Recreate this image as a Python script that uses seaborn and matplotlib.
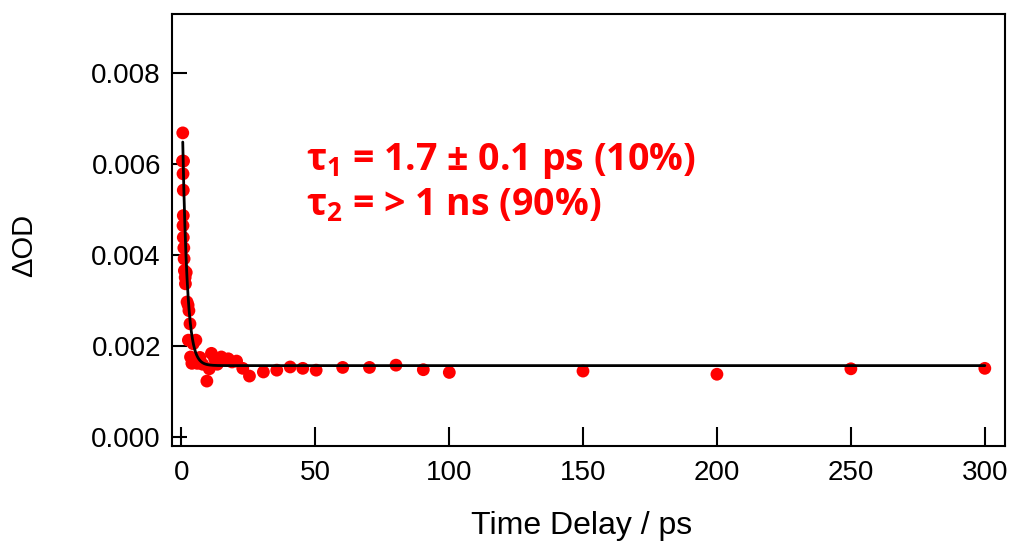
import numpy as np
import pandas as pd
import matplotlib
matplotlib.use("Agg")
import matplotlib.pyplot as plt
import seaborn as sns

# Transient absorption kinetics: measured delay times (ps) and ΔOD
delay_ps = [0.6, 0.5, 0.9, 0.7, 0.8, 0.8, 0.7, 0.8, 1.0, 1.1, 1.2, 1.9, 1.5, 1.6,
            2.2, 2.6, 2.9, 3.3, 2.7, 3.5, 4.0, 4.5, 5.5, 6.0, 7.0, 8.0, 9.6,
            10.5, 11.3, 12.5, 13.5, 15.0, 16.5, 17.6, 19.0, 20.7, 23.0, 25.5,
            30.7, 35.7, 40.7, 45.4, 50.4, 60.3, 70.3, 80.2, 90.4, 100.1,
            150, 200, 250, 300]
delta_od = [0.00669, 0.00607, 0.00607, 0.00579, 0.00543, 0.00487, 0.00465,
            0.00439, 0.00416, 0.00392, 0.00366, 0.00362, 0.00351, 0.00337,
            0.00297, 0.00290, 0.00278, 0.00249, 0.00213, 0.00176, 0.00162,
            0.00205, 0.00213, 0.00162, 0.00175, 0.00160, 0.00123, 0.00150,
            0.00184, 0.00172, 0.00160, 0.00176, 0.00170, 0.00172, 0.00165,
            0.00167, 0.00151, 0.00134, 0.00143, 0.00147, 0.00154, 0.00151,
            0.00147, 0.00153, 0.00153, 0.00158, 0.00148, 0.00142, 0.00145,
            0.00138, 0.00150, 0.00151]

# Fit parameters: fast component (tau1) plus long-lived offset (tau2 > 1 ns)
tau1_ps = 1.7
amp_fast = 0.0070
amp_slow = 0.00157
fit_start_ps = 0.6
fit_end_ps = 300

x_ticks = [0, 50, 100, 150, 200, 250, 300]
y_ticks = [0.000, 0.002, 0.004, 0.006, 0.008]

sns.set_style("white")
plt.rcParams["font.family"] = ["Liberation Sans", "DejaVu Sans"]

fig = plt.figure(figsize=(10.12, 5.48), dpi=100)
ax = fig.add_axes([0.170, 0.186, 0.823, 0.788])

data = pd.DataFrame({"t": delay_ps, "od": delta_od})
sns.scatterplot(data=data, x="t", y="od", ax=ax, color="#ff0000",
                s=85, edgecolor="none", zorder=2, legend=False)

t_fit = np.linspace(fit_start_ps, fit_end_ps, 3000)
od_fit = amp_fast * np.exp(-t_fit / tau1_ps) + amp_slow
sns.lineplot(x=t_fit, y=od_fit, ax=ax, color="black", linewidth=2.0,
             zorder=3, legend=False, sort=False)

ax.set_xlim(-3.4, 307.5)
ax.set_ylim(-0.0002, 0.0093)
ax.set_xticks(x_ticks)
ax.set_yticks(y_ticks)
ax.set_xticklabels([str(v) for v in x_ticks], fontsize=20)
ax.set_yticklabels([f"{v:.3f}" for v in y_ticks], fontsize=20)
ax.tick_params(axis="x", direction="in", length=14, width=1.5, pad=10,
               bottom=True, top=False, colors="black")
ax.tick_params(axis="y", direction="in", length=11, width=1.5, pad=8,
               left=True, right=False, colors="black")
for sp in ax.spines.values():
    sp.set_visible(True)
    sp.set_color("black")
    sp.set_linewidth(1.5)

ax.set_xlabel("Time Delay / ps", fontsize=23, color="black")
ax.xaxis.set_label_coords(0.492, -0.150)
ax.set_ylabel("ΔOD", fontsize=21, color="black")
ax.yaxis.set_label_coords(-0.161, 0.465)

ax.text(46.5, 0.00607, r"$\mathregular{\tau_1}$ = 1.7 ± 0.1 ps (10%)",
        color="#ff0000", fontsize=27, fontweight="bold",
        family=["Open Sans", "DejaVu Sans"], va="center", ha="left")
ax.text(46.5, 0.00508, r"$\mathregular{\tau_2}$ = > 1 ns (90%)",
        color="#ff0000", fontsize=27, fontweight="bold",
        family=["Open Sans", "DejaVu Sans"], va="center", ha="left")

fig.savefig("out.png", dpi=100)
